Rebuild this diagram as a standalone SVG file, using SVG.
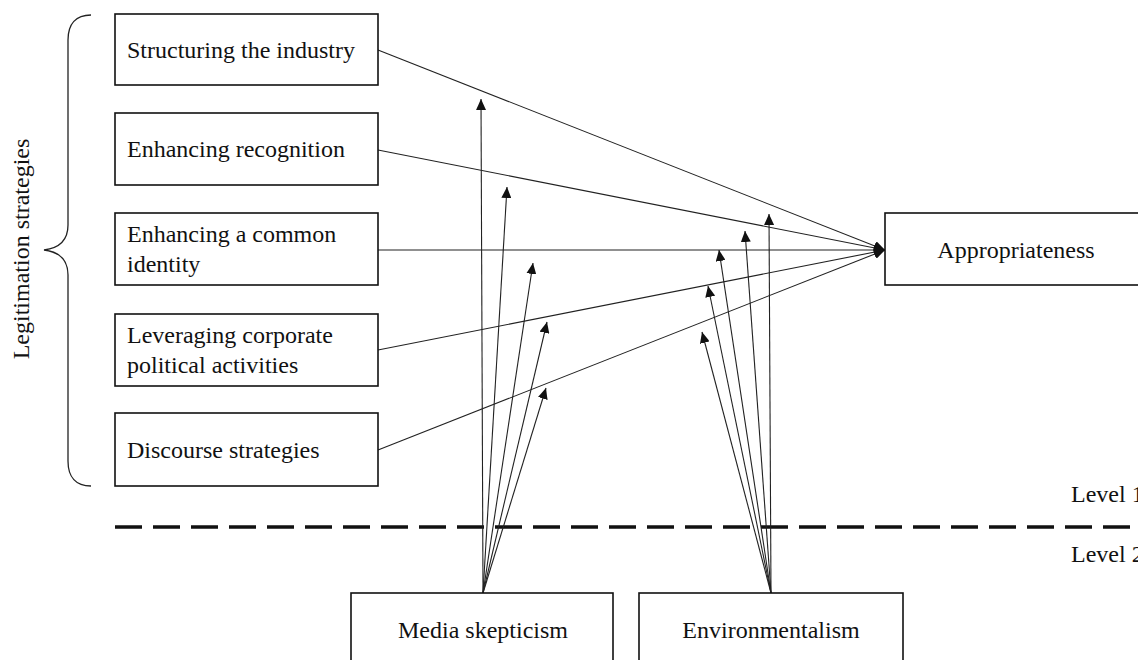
<svg xmlns="http://www.w3.org/2000/svg" width="1138" height="660" viewBox="0 0 1138 660">
<style>
  .box { fill: #fff; stroke: #111; stroke-width: 1.6; }
  .lbl { font-family: "Liberation Serif", "Times New Roman", serif; font-size: 24px; fill: #111; }
  .mid { text-anchor: middle; }
  .conn { stroke: #222; stroke-width: 1.1; fill: none; marker-end: url(#arrow); }
</style>
<defs>
  <marker id="arrow" markerUnits="userSpaceOnUse" markerWidth="12" markerHeight="10" refX="11" refY="5" orient="auto">
    <path d="M0,0 L11,5 L0,10 Z" fill="#111"/>
  </marker>
</defs>
<rect width="1138" height="660" fill="#fff"/>

<g id="brace">
  <path d="M91,15 C76,15 68,24 68,40 L68,225 C68,240 60,248 44,250 C60,252 68,260 68,275 L68,461 C68,477 76,486 91,486" fill="none" stroke="#222" stroke-width="1.3"/>
  <text class="lbl mid" transform="translate(29,249) rotate(-90)">Legitimation strategies</text>
</g>

<g id="level-divider">
  <line x1="115" y1="527" x2="1138" y2="527" stroke="#111" stroke-width="3.5" stroke-dasharray="27 11"/>
  <text class="lbl" x="1071" y="502">Level 1</text>
  <text class="lbl" x="1071" y="562">Level 2</text>
</g>

<g id="connectors">
  <line class="conn" x1="378" y1="50" x2="885" y2="250"/>
  <line class="conn" x1="378" y1="150" x2="885" y2="250"/>
  <line class="conn" x1="378" y1="250" x2="885" y2="250"/>
  <line class="conn" x1="378" y1="350" x2="885" y2="250"/>
  <line class="conn" x1="378" y1="450" x2="885" y2="250"/>

  <line class="conn" x1="483" y1="593" x2="481" y2="99"/>
  <line class="conn" x1="483" y1="593" x2="507" y2="187"/>
  <line class="conn" x1="483" y1="593" x2="533" y2="263"/>
  <line class="conn" x1="483" y1="593" x2="547" y2="322"/>
  <line class="conn" x1="483" y1="593" x2="546" y2="388"/>

  <line class="conn" x1="771" y1="593" x2="769" y2="214"/>
  <line class="conn" x1="771" y1="593" x2="745" y2="231"/>
  <line class="conn" x1="771" y1="593" x2="719" y2="250"/>
  <line class="conn" x1="771" y1="593" x2="708" y2="286"/>
  <line class="conn" x1="771" y1="593" x2="702" y2="332"/>
</g>

<g id="structuring">
  <rect class="box" x="115" y="14" width="263" height="71"/>
  <text class="lbl" x="127" y="58">Structuring the industry</text>
</g>
<g id="recognition">
  <rect class="box" x="115" y="113" width="263" height="72"/>
  <text class="lbl" x="127" y="157">Enhancing recognition</text>
</g>
<g id="identity">
  <rect class="box" x="115" y="213" width="263" height="72"/>
  <text class="lbl" x="127" y="242">Enhancing a common</text>
  <text class="lbl" x="127" y="272">identity</text>
</g>
<g id="political">
  <rect class="box" x="115" y="314" width="263" height="72"/>
  <text class="lbl" x="127" y="343">Leveraging corporate</text>
  <text class="lbl" x="127" y="373">political activities</text>
</g>
<g id="discourse">
  <rect class="box" x="115" y="413" width="263" height="73"/>
  <text class="lbl" x="127" y="458">Discourse strategies</text>
</g>
<g id="appropriateness">
  <rect class="box" x="885" y="213" width="270" height="72"/>
  <text class="lbl mid" x="1016" y="258">Appropriateness</text>
</g>
<g id="media">
  <rect class="box" x="351" y="593" width="262" height="80"/>
  <text class="lbl mid" x="483" y="638">Media skepticism</text>
</g>
<g id="environmentalism">
  <rect class="box" x="639" y="593" width="264" height="80"/>
  <text class="lbl mid" x="771" y="638">Environmentalism</text>
</g>
</svg>
